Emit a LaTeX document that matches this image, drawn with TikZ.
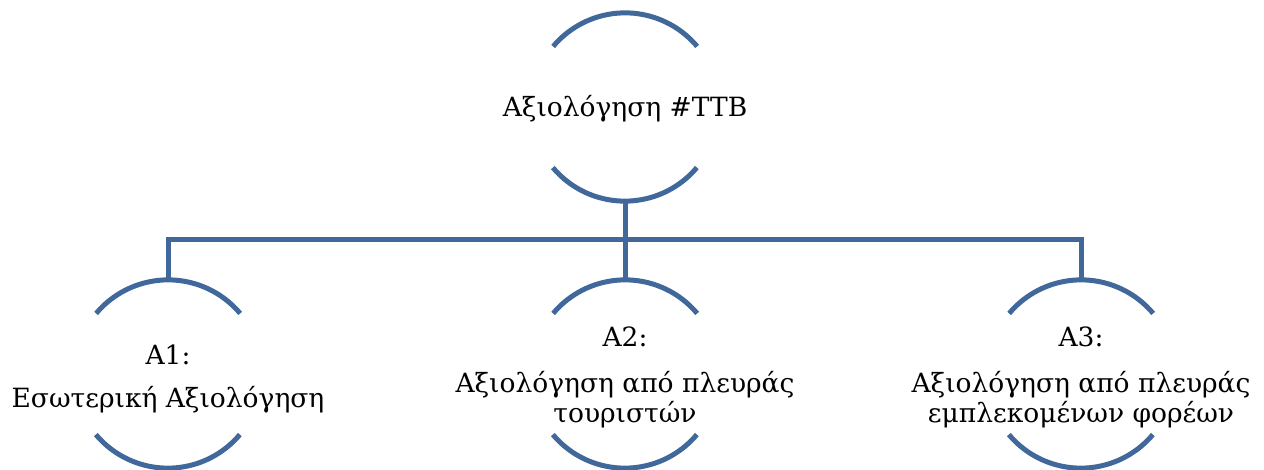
\documentclass[tikz,border=0pt]{standalone}
\usepackage{fontspec}
\setmainfont{DejaVu Serif}
\definecolor{arcblue}{RGB}{65,104,155}
\begin{document}
\begin{tikzpicture}[x=1pt,y=1pt,
  ring/.style={circle,inner sep=0pt,minimum size=188pt,draw=none},
  arcline/.style={draw=arcblue,line width=5pt},
  conn/.style={draw=arcblue,line width=5pt},
  lbl/.style={anchor=base,inner sep=0pt,font=\fontsize{26.5}{30}\selectfont}]
\useasboundingbox (0,0) rectangle (1264,-470);
\node[ring] (top) at (625,-107) {};
\node[ring] (a1) at (168,-374) {};
\node[ring] (a2) at (625,-374) {};
\node[ring] (a3) at (1081,-374) {};
\foreach \n in {top,a1,a2,a3}{
  \draw[arcline] (\n.40) arc[start angle=40,end angle=140,radius=94];
  \draw[arcline] (\n.220) arc[start angle=220,end angle=320,radius=94];
}
\coordinate (bus) at (625,-240);
\draw[conn] (top.south) -- (bus);
\draw[conn] (a2.north) -- (bus);
\draw[conn,line join=miter] (a1.north) -- (a1.north |- bus) -- (a3.north |- bus) -- (a3.north);
\node[lbl] (t0) at (625,-117) {Αξιολόγηση \#TTB};
\node[lbl] (t1a) at (168,-364) {A1:};
\node[lbl] (t1b) at (168,-407) {Εσωτερική Αξιολόγηση};
\node[lbl] (t2a) at (625,-346) {A2:};
\node[lbl] (t2b) at (625,-392) {Αξιολόγηση από πλευράς};
\node[lbl] (t2c) at (625,-422) {τουριστών};
\node[lbl] (t3a) at (1081,-346) {A3:};
\node[lbl] (t3b) at (1081,-392) {Αξιολόγηση από πλευράς};
\node[lbl] (t3c) at (1081,-422) {εμπλεκομένων φορέων};
\end{tikzpicture}
\end{document}
